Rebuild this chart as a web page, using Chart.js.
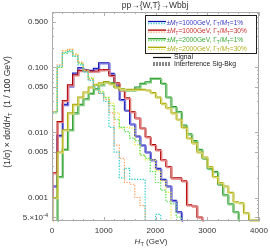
<!DOCTYPE html>
<html>
<head>
<meta charset="utf-8">
<script src="https://cdn.jsdelivr.net/npm/chart.js@4.4.0/dist/chart.umd.min.js"></script>
<style>
  html, body { margin: 0; padding: 0; background: #fff; }
  #wrap { width: 270px; height: 249px; }
</style>
</head>
<body>
<div id="wrap"><canvas id="htChart" width="270" height="249"></canvas></div>
<script>
// H_T bin edges (GeV), 100 GeV bins
const binEdges = [0, 100, 200, 300, 400, 500, 600, 700, 800, 900, 1000,
  1100, 1200, 1300, 1400, 1500, 1600, 1700, 1800, 1900, 2000,
  2100, 2200, 2300, 2400, 2500, 2600, 2700, 2800, 2900, 3000,
  3100, 3200, 3300, 3400, 3500, 3600, 3700, 3800, 3900, 4000];

// LOW = bin content below the plotted range
const LOW = 1e-5;

// signal, M_T = 1000 GeV, width 1%
const sig1000w1 = [LOW, 0.0015, 0.009, 0.027, 0.052, 0.082, 0.1, 0.092, 0.09, 0.097,
  0.118, 0.118, 0.081, 0.054, 0.032, 0.022, 0.0135, 0.0088, 0.0064, 0.005,
  0.0038, 0.0028, 0.0019, 0.0015, 0.0009, 0.0006, LOW, LOW, LOW, LOW,
  LOW, LOW, LOW, LOW, LOW, LOW, LOW, LOW, LOW, LOW];
// signal, M_T = 1000 GeV, width 30%
const sig1000w30 = [LOW, 0.0024, 0.0147, 0.031, 0.054, 0.077, 0.09, 0.09, 0.088, 0.088,
  0.092, 0.093, 0.075, 0.058, 0.045, 0.034, 0.021, 0.0167, 0.0117, 0.0086,
  0.0065, 0.0054, 0.0038, 0.003, 0.002, 0.002, 0.0018, 0.00077, 0.00074, 0.0005,
  LOW, LOW, LOW, LOW, LOW, LOW, LOW, LOW, LOW, LOW];
// signal, M_T = 2000 GeV, width 1%
const sig2000w1 = [LOW, LOW, 0.0021, 0.0055, 0.011, 0.02, 0.027, 0.033, 0.04, 0.047,
  0.054, 0.06, 0.058, 0.05, 0.046, 0.045, 0.045, 0.05, 0.057, 0.06,
  0.068, 0.068, 0.057, 0.035, 0.025, 0.021, 0.013, 0.0095, 0.0075, 0.0055,
  0.004, 0.0028, 0.0025, 0.0016, 0.0011, 0.0008, 0.0006, LOW, LOW, LOW];
// signal, M_T = 2000 GeV, width 30%
const sig2000w30 = [LOW, 0.001, 0.005, 0.011, 0.02, 0.027, 0.035, 0.042, 0.05, 0.055,
  0.058, 0.06, 0.056, 0.05, 0.047, 0.046, 0.046, 0.046, 0.046, 0.045,
  0.041, 0.035, 0.028, 0.024, 0.02, 0.016, 0.012, 0.0082, 0.0069, 0.005,
  0.0042, 0.003, 0.0021, 0.0017, 0.0015, 0.0012, 0.00086, 0.00083, 0.00058, 0.00045];

// interference signal-background
const int1000w1 = [0.0017, 0.02, 0.105, 0.17, 0.18, 0.15, 0.11, 0.085, 0.063, 0.05,
  0.04, 0.03, 0.012, 0.005, 0.002, 0.0028, 0.0019, 0.0019, 0.0019, LOW,
  LOW, 0.00055, LOW, LOW, LOW, LOW, LOW, LOW, LOW, LOW,
  LOW, LOW, LOW, LOW, LOW, LOW, LOW, LOW, LOW, LOW];
const int1000w30 = [0.004, 0.021, 0.11, 0.18, 0.19, 0.16, 0.12, 0.09, 0.065, 0.052,
  0.04, 0.032, 0.02, 0.0064, 0.004, 0.0017, 0.0016, 0.001, 0.00075, LOW,
  LOW, LOW, LOW, LOW, LOW, LOW, LOW, LOW, LOW, LOW,
  LOW, LOW, LOW, LOW, LOW, LOW, LOW, LOW, LOW, LOW];
const int2000w1 = [LOW, 0.021, 0.1, 0.165, 0.175, 0.15, 0.115, 0.088, 0.068, 0.054,
  0.042, 0.034, 0.026, 0.016, 0.012, 0.0103, 0.0082, 0.0075, 0.0045, 0.004,
  0.0025, 0.0017, 0.0013, 0.00086, 0.0008, 0.0005, LOW, LOW, LOW, LOW,
  LOW, LOW, LOW, LOW, LOW, LOW, LOW, LOW, LOW, LOW];
const int2000w30 = [0.0012, 0.02, 0.1, 0.18, 0.19, 0.16, 0.12, 0.09, 0.07, 0.055,
  0.043, 0.035, 0.028, 0.02, 0.0117, 0.012, 0.0117, 0.0065, 0.0045, 0.0038,
  0.0038, 0.0026, 0.0018, 0.0012, LOW, LOW, LOW, LOW, LOW, LOW,
  LOW, LOW, LOW, LOW, LOW, LOW, LOW, LOW, LOW, LOW];

// axis ticks
const xMajorTicks = [0, 1000, 2000, 3000, 4000];
const xMinorTicks = [200, 400, 600, 800, 1200, 1400, 1600, 1800, 2200, 2400, 2600, 2800,
  3200, 3400, 3600, 3800];
const yMajorTicks = [0.5, 0.1, 0.05, 0.01, 0.005, 0.001, 0.0005];
const yTickLabels = ['0.500', '0.100', '0.050', '0.010', '0.005', '0.001', '5.×10^-4'];
const yMinorTicks = [0.7, 0.6, 0.4, 0.3, 0.2, 0.09, 0.08, 0.07, 0.06, 0.04, 0.03, 0.02,
  0.009, 0.008, 0.007, 0.006, 0.004, 0.003, 0.002,
  0.0009, 0.0008, 0.0007, 0.0006];

const legendRows = [
  { mass: '1000', width: '1%', line: '#1010b0', dot: '#33cccc', text: '#3838c8' },
  { mass: '1000', width: '30%', line: '#b00000', dot: '#ffa060', text: '#c83030' },
  { mass: '2000', width: '1%', line: '#229922', dot: '#55e055', text: '#38a838' },
  { mass: '2000', width: '30%', line: '#a8a800', dot: '#e8e840', text: '#b0b020' }
];

function toPoints(vals) {
  const pts = vals.map((v, i) => ({ x: binEdges[i], y: v }));
  pts.push({ x: binEdges[binEdges.length - 1], y: vals[vals.length - 1] });
  return pts;
}

function sigSets(vals, dark, light) {
  return [
    { data: toPoints(vals), borderColor: light, borderWidth: 1.4, shadow: true },
    { data: toPoints(vals), borderColor: dark, borderWidth: 1.2 }
  ];
}

function intSet(vals, color) {
  return { data: toPoints(vals), borderColor: color, borderWidth: 1.2, borderDash: [1.4, 1.4] };
}

const datasets = [
  intSet(int1000w1, '#33cccc'),
  intSet(int1000w30, '#ffa060'),
  intSet(int2000w1, '#55e055'),
  intSet(int2000w30, '#e8e840'),
  ...sigSets(sig2000w30, '#a8a800', '#d4d470'),
  ...sigSets(sig2000w1, '#229922', '#80c880'),
  ...sigSets(sig1000w30, '#b00000', '#e08080'),
  ...sigSets(sig1000w1, '#1010b0', '#7878e0')
];

const FONT = '"Liberation Sans", Arial, sans-serif';

function drawParts(ctx, x, y, parts, size, color) {
  ctx.fillStyle = color;
  ctx.textBaseline = 'alphabetic';
  ctx.textAlign = 'left';
  for (const p of parts) {
    const fs = (p.sub || p.sup) ? size * 0.7 : size;
    ctx.font = (p.it ? 'italic ' : '') + fs + 'px ' + FONT;
    const dy = p.sub ? size * 0.25 : (p.sup ? -size * 0.4 : 0);
    ctx.fillText(p.t, x, y + dy);
    x += ctx.measureText(p.t).width;
  }
  return x;
}

function partsWidth(ctx, parts, size) {
  let w = 0;
  for (const p of parts) {
    const fs = (p.sub || p.sup) ? size * 0.7 : size;
    ctx.font = (p.it ? 'italic ' : '') + fs + 'px ' + FONT;
    w += ctx.measureText(p.t).width;
  }
  return w;
}

// the light copy of each signal line sits one pixel right/down of the dark one
const shadowPlugin = {
  id: 'shadow',
  beforeDatasetDraw(chart, args) {
    const ds = chart.data.datasets[args.index];
    chart.ctx.save();
    if (ds.shadow) chart.ctx.translate(1, 1);
  },
  afterDatasetDraw(chart) {
    chart.ctx.restore();
  }
};

const framePlugin = {
  id: 'frame',
  afterDraw(chart) {
    const ctx = chart.ctx;
    const a = chart.chartArea;
    const xs = chart.scales.x, ys = chart.scales.y;
    ctx.save();
    // frame
    ctx.strokeStyle = '#a8a8a8';
    ctx.lineWidth = 1;
    ctx.strokeRect(a.left + 0.5, a.top + 0.5, a.right - a.left - 1, a.bottom - a.top - 1);
    // ticks, pointing inwards on all four sides
    ctx.strokeStyle = '#b0b0b0';
    ctx.beginPath();
    const tickX = (v, len) => {
      const px = Math.round(xs.getPixelForValue(v)) + 0.5;
      ctx.moveTo(px, a.bottom); ctx.lineTo(px, a.bottom - len);
      ctx.moveTo(px, a.top); ctx.lineTo(px, a.top + len);
    };
    const tickY = (v, len) => {
      const py = Math.round(ys.getPixelForValue(v)) + 0.5;
      ctx.moveTo(a.left, py); ctx.lineTo(a.left + len, py);
      ctx.moveTo(a.right, py); ctx.lineTo(a.right - len, py);
    };
    xMajorTicks.forEach(v => tickX(v, 4));
    xMinorTicks.forEach(v => tickX(v, 2));
    yMajorTicks.forEach(v => tickY(v, 4));
    yMinorTicks.forEach(v => tickY(v, 2));
    ctx.stroke();

    // tick labels
    ctx.fillStyle = '#333';
    ctx.font = '8px ' + FONT;
    ctx.textAlign = 'center';
    ctx.textBaseline = 'top';
    xMajorTicks.forEach(v => ctx.fillText(String(v), xs.getPixelForValue(v), a.bottom + 6));
    yMajorTicks.forEach((v, i) => {
      const py = ys.getPixelForValue(v);
      const lab = yTickLabels[i];
      if (lab.indexOf('^') >= 0) {
        const [base, exp] = lab.split('^');
        const parts = [{ t: base }, { t: exp, sup: true }];
        const w = partsWidth(ctx, parts, 8);
        drawParts(ctx, a.left - 4 - w, py + 3, parts, 8, '#333');
      } else {
        ctx.font = '8px ' + FONT;
        ctx.textAlign = 'right';
        ctx.textBaseline = 'middle';
        ctx.fillStyle = '#333';
        ctx.fillText(lab, a.left - 4, py);
      }
    });

    // axis titles
    const xt = [{ t: 'H', it: true }, { t: 'T', sub: true }, { t: ' (GeV)' }];
    const xw = partsWidth(ctx, xt, 8);
    drawParts(ctx, 151 - xw / 2, 244, xt, 8, '#333');

    ctx.save();
    ctx.translate(10, 112);
    ctx.rotate(-Math.PI / 2);
    const yt = [{ t: '(1/σ) × dσ/d' }, { t: 'H', it: true }, { t: 'T', sub: true }, { t: '  (1 / 100 GeV)' }];
    const yw = partsWidth(ctx, yt, 8.6);
    drawParts(ctx, -yw / 2, 0, yt, 8.6, '#333');
    ctx.restore();

    // title
    ctx.font = '8.5px ' + FONT;
    ctx.fillStyle = '#333';
    ctx.textAlign = 'center';
    ctx.textBaseline = 'middle';
    ctx.fillText('pp→{W,T}→Wbbj', 155, 6);

    // legend box
    ctx.fillStyle = '#fff';
    ctx.fillRect(145, 15, 112, 38);
    ctx.strokeStyle = '#222';
    ctx.lineWidth = 1;
    ctx.strokeRect(145.5, 15.5, 111, 38);
    legendRows.forEach((r, i) => {
      const y = 22.5 + i * 8.6;
      ctx.setLineDash([]);
      ctx.strokeStyle = r.line;
      ctx.lineWidth = 1.3;
      ctx.beginPath(); ctx.moveTo(148, y - 1); ctx.lineTo(166, y - 1); ctx.stroke();
      ctx.setLineDash([1.3, 1.3]);
      ctx.strokeStyle = r.dot;
      ctx.beginPath(); ctx.moveTo(148, y + 1); ctx.lineTo(166, y + 1); ctx.stroke();
      ctx.setLineDash([]);
      const parts = [{ t: '±' }, { t: 'M', it: true }, { t: 'T', sub: true },
        { t: '=' + r.mass + 'GeV, Γ' }, { t: 'T', sub: true }, { t: '/' }, { t: 'M', it: true },
        { t: 'T', sub: true }, { t: '=' + r.width }];
      drawParts(ctx, 166.5, y + 2.3, parts, 6.6, r.text);
    });

    // line-style key
    ctx.strokeStyle = '#111';
    ctx.lineWidth = 1.2;
    ctx.beginPath(); ctx.moveTo(153, 57.5); ctx.lineTo(171, 57.5); ctx.stroke();
    ctx.setLineDash([2, 1]);
    ctx.beginPath(); ctx.moveTo(153, 63); ctx.lineTo(171, 63); ctx.stroke();
    ctx.beginPath(); ctx.moveTo(153, 65); ctx.lineTo(171, 65); ctx.stroke();
    ctx.setLineDash([]);
    ctx.font = '6.8px ' + FONT;
    ctx.fillStyle = '#222';
    ctx.textAlign = 'left';
    ctx.textBaseline = 'middle';
    ctx.fillText('Signal', 174, 57.5);
    ctx.fillText('Interference Sig-Bkg', 174, 64.5);
    ctx.restore();
  }
};

new Chart(document.getElementById('htChart'), {
  type: 'line',
  data: { datasets: datasets },
  options: {
    responsive: false,
    animation: false,
    layout: { padding: { left: 52, right: 11, top: 12, bottom: 28 } },
    elements: { point: { radius: 0 }, line: { stepped: 'after', tension: 0, fill: false } },
    plugins: { legend: { display: false }, tooltip: { enabled: false } },
    scales: {
      x: { type: 'linear', min: 0, max: 4000, display: false },
      y: { type: 'logarithmic', min: 0.000435, max: 0.714, display: false }
    }
  },
  plugins: [shadowPlugin, framePlugin]
});
</script>
</body>
</html>
